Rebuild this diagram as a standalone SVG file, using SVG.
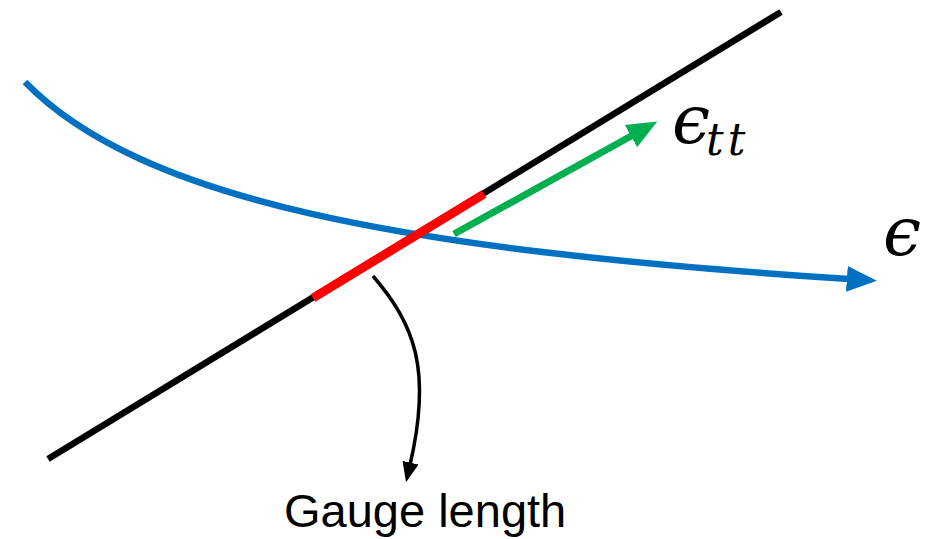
<svg xmlns="http://www.w3.org/2000/svg" width="925" height="539" viewBox="0 0 925 539">
<defs>
<style>
.lbl{font-family:"Liberation Sans",Arial,sans-serif;fill:#000}
.math{font-family:"DejaVu Serif","Liberation Serif",serif;font-style:italic;fill:#000}
</style>
<marker id="hb" markerUnits="userSpaceOnUse" markerWidth="30" markerHeight="30" refX="2" refY="12" orient="auto" viewBox="0 0 28 24"><path d="M0,0 L28,12 L0,24 Z" fill="#0070C0"/></marker>
<marker id="hg" markerUnits="userSpaceOnUse" markerWidth="30" markerHeight="30" refX="2" refY="11" orient="auto" viewBox="0 0 26 22"><path d="M0,0 L26,11 L0,22 Z" fill="#00B050"/></marker>
<marker id="hk" markerUnits="userSpaceOnUse" markerWidth="20" markerHeight="20" refX="2" refY="7" orient="auto" viewBox="0 0 17 14"><path d="M0,0 L17,7 L0,14 Z" fill="#000"/></marker>
</defs>
<g id="connectors">
<line id="axis" x1="48" y1="459" x2="781" y2="12" stroke="#000" stroke-width="6.5"/>
<path id="eps-curve" d="M25,82 C140,200 400,250 849,279" fill="none" stroke="#0070C0" stroke-width="6.5" marker-end="url(#hb)"/>
<line id="gauge" x1="313" y1="298" x2="484" y2="194" stroke="#FF0000" stroke-width="9"/>
<line id="ett-arrow" x1="454" y1="234" x2="633" y2="135" stroke="#00B050" stroke-width="7" marker-end="url(#hg)"/>
<path id="gauge-pointer" d="M373,276 C415,325 432,370 410,465" fill="none" stroke="#000" stroke-width="3.5" marker-end="url(#hk)"/>
</g>
<g id="label-ett">
<text class="math" x="672" y="143" font-size="68">ϵ</text>
<text class="math" x="706" y="155" font-size="44" letter-spacing="4">tt</text>
</g>
<g id="label-eps">
<text class="math" x="883" y="255" font-size="68">ϵ</text>
</g>
<g id="label-gauge">
<text class="lbl" x="284" y="527" font-size="47">Gauge length</text>
</g>
</svg>
